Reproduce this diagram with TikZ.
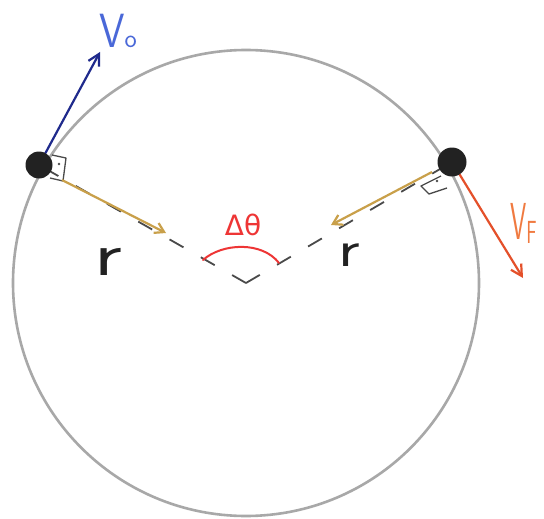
\documentclass[tikz,border=0pt]{standalone}
\usepackage{fontspec}
\newfontfamily\dv{DejaVu Sans}
\usetikzlibrary{arrows.meta}
\definecolor{ringgray}{HTML}{A8A8A8}
\definecolor{balldark}{HTML}{222222}
\definecolor{dashgray}{HTML}{4A4A4A}
\definecolor{goldc}{HTML}{C9A04A}
\definecolor{vblue}{HTML}{1F2A8C}
\definecolor{lblue}{HTML}{4A68D8}
\definecolor{vred}{HTML}{E4502A}
\definecolor{lorange}{HTML}{F07A40}
\definecolor{angred}{HTML}{EE3535}
\begin{document}
\begin{tikzpicture}[x=1pt,y=-1pt,
  ring/.style={draw=ringgray, line width=2.6pt},
  ball/.style={circle, fill=balldark, inner sep=0pt, minimum size=27pt},
  radline/.style={draw=dashgray, line width=1.8pt, dash pattern=on 16pt off 20pt},
  pull/.style={draw=goldc, line width=2.2pt, -{Straight Barb[length=9pt,width=11pt]}},
  vel/.style={line width=2.2pt, -{Straight Barb[length=11pt,width=12pt]}},
  rmark/.style={draw=dashgray, line width=1.3pt, line join=round},
  lbl/.style={inner sep=0pt, font=\sffamily}]
\useasboundingbox (0,0) rectangle (544,519);
\fill[white] (0,0) rectangle (544,519);
% circle
\coordinate (O) at (246,283);
\draw[ring] (O) circle[radius=233];
% ball positions
\coordinate (Lp) at (39,165);
\coordinate (Rp) at (452,162);
% radii (dashed)
\draw[radline] (O) -- (Lp);
\draw[radline] (O) -- (Rp);
% right-angle markers
\draw[rmark] (52,155) -- (66,158) -- (63,181) -- (50,178);
\fill[dashgray] (59,164) circle[radius=1.4];
\draw[rmark] (441,176) -- (421,186) -- (429,194) -- (447,188);
\fill[dashgray] (437,181) circle[radius=1.4];
% angle arc
\coordinate (a1) at (203,260);
\coordinate (a2) at (279,263);
\draw[angred, line width=2pt, line cap=round] (a1) .. controls (222,243) and (262,241) .. (a2);
\node[lbl, text=angred, font=\dv\fontsize{28}{28}\selectfont] (dth) at (243,225) {Δθ};
% golden arrows (centripetal)
\coordinate (Ls) at (62,180);
\coordinate (Le) at (166,233);
\coordinate (Rs) at (432,172);
\coordinate (Re) at (331,225);
\draw[pull] (Ls) -- (Le);
\draw[pull] (Rs) -- (Re);
% velocity arrows
\coordinate (V0tip) at (100,52);
\coordinate (VFtip) at (523,278);
\draw[vel, vblue] (Lp) -- (V0tip);
\draw[vel, vred] (Rp) -- (VFtip);
% balls
\node[ball] (bL) at (Lp) {};
\node[ball, minimum size=29pt] (bR) at (Rp) {};
% labels
\node[lbl, text=lblue, anchor=south west] (v0) at (99,48) {\scalebox{0.85}[1]{\fontsize{48}{48}\selectfont V}\raisebox{0pt}{\fontsize{26}{26}\selectfont o}};
\node[lbl, text=lorange, anchor=south west] (vf) at (510,244) {\scalebox{0.5}[1]{\fontsize{52}{52}\selectfont V}\raisebox{-4pt}{\scalebox{0.6}[1]{\fontsize{32}{32}\selectfont F}}};
\node[lbl, text=balldark] (rL) at (108,262) {\scalebox{1.4}[1]{\fontsize{62}{62}\selectfont r}};
\node[lbl, text=balldark] (rR) at (349,255) {\scalebox{1.3}[1]{\fontsize{52}{52}\selectfont r}};
\end{tikzpicture}
\end{document}
